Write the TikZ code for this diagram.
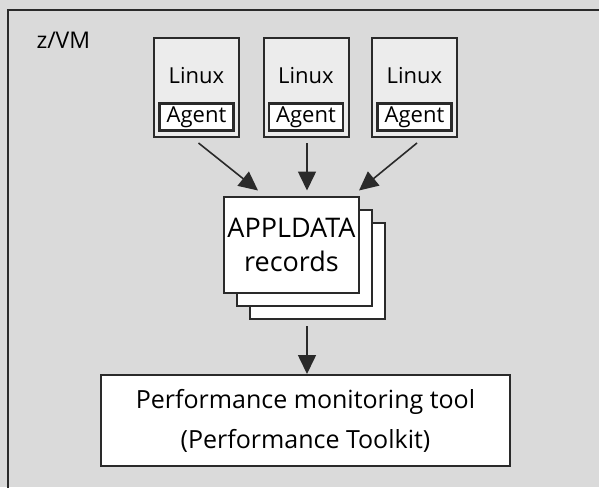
\documentclass[tikz,border=0pt]{standalone}
\usepackage{fontspec}
\setmainfont{Open Sans}
\usetikzlibrary{arrows.meta}
\definecolor{vmgray}{HTML}{DADADA}
\definecolor{guestgray}{HTML}{ECECEC}
\definecolor{edge}{HTML}{2A2A2A}
\begin{document}
\begin{tikzpicture}[x=1pt,y=-1pt,
  guest/.style={draw=edge, line width=2pt, fill=guestgray, minimum width=85pt, minimum height=99pt, inner sep=0pt},
  agent/.style={draw=edge, line width=2.4pt, fill=white, minimum width=74pt, minimum height=27pt, inner sep=0pt, font=\fontsize{22}{26}\selectfont},
  sheet/.style={draw=edge, line width=2pt, fill=white, minimum width=135pt, minimum height=96pt, inner sep=0pt},
  arw/.style={draw=edge, line width=1.6pt, -{Triangle[length=19pt,width=18pt]}}]
\useasboundingbox (0,0) rectangle (599,487);
\fill[vmgray] (0,0) rectangle (599,487);
\draw[edge, line width=1.5pt] (8,10) rectangle (620,510);
\node[anchor=west, font=\fontsize{23}{26}\selectfont] (vm) at (33,40) {z/VM};

% Linux guests
\node[guest] (lin1) at (196.5,87.5) {};
\node[font=\fontsize{22}{26}\selectfont] (txt1) at (196.5,76) {Linux};
\node[agent] (ag1) at (196.5,117) {Agent};
\node[guest] (lin2) at (306,87.5) {};
\node[font=\fontsize{22}{26}\selectfont] (txt2) at (306,76) {Linux};
\node[agent] (ag2) at (306,117) {Agent};
\node[guest] (lin3) at (414.5,87.5) {};
\node[font=\fontsize{22}{26}\selectfont] (txt3) at (414.5,76) {Linux};
\node[agent] (ag3) at (414.5,117) {Agent};

% stack of records
\node[sheet] (rec3) at (317.5,271) {};
\node[sheet] (rec2) at (304.5,257.5) {};
\node[sheet, align=center, font=\fontsize{27}{34}\selectfont] (rec1) at (291.5,244.5) {APPLDATA\\records};

% monitoring tool
\node[draw=edge, line width=2pt, fill=white, minimum width=409pt, minimum height=91pt, inner sep=0pt,
  align=center, font=\fontsize{25}{40}\selectfont] (perf) at (305.5,420.5)
  {Performance monitoring tool\\(Performance Toolkit)};

\draw[arw] ([xshift=2pt,yshift=-5pt]lin1.south) -- ([xshift=35pt,yshift=5pt]rec1.north west);
\draw[arw, shorten <=5pt, shorten >=5pt] ([xshift=1pt]lin2.south) -- ([xshift=1pt]lin2.south |- rec1.north);
\draw[arw] ([xshift=2.5pt,yshift=-5pt]lin3.south) -- ([xshift=-1pt,yshift=5pt]rec1.north east);
\draw[arw, shorten <=6pt] ([xshift=1.5pt]perf.north |- rec3.south) -- ([xshift=1.5pt]perf.north);
\end{tikzpicture}
\end{document}
